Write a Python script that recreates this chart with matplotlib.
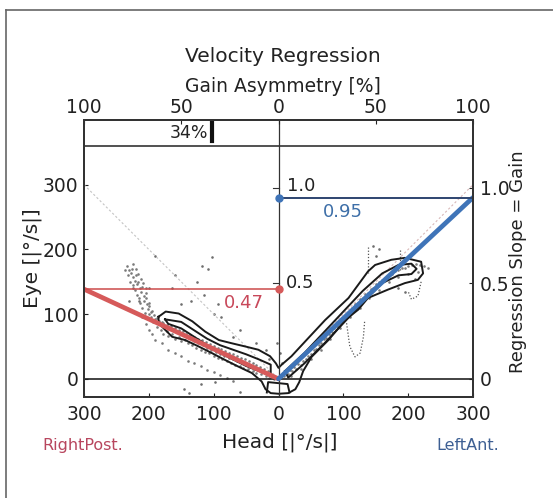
import numpy as np
import matplotlib.pyplot as plt
from matplotlib.lines import Line2D

plt.rcParams['font.family'] = ['DejaVu Sans']

# values (head / eye velocity in deg/s)
gain_right = 0.47
gain_left = 0.95
asymmetry = 34          # %, toward RightPost side
gain_scale = 295        # eye velocity that corresponds to gain 1.0 on the right axis

x_ticks = [-300, -200, -100, 0, 100, 200, 300]
x_labels = ['300', '200', '100', '0', '100', '200', '300']
asym_ticks = [-300, -150, 0, 150, 300]
asym_labels = ['100', '50', '0', '50', '100']
y_ticks = [0, 100, 200, 300]
gain_ticks = [0, 0.5, 1.0]
gain_labels = ['0', '0.5', '1.0']

left_x = [-233, -230, -228, -226, -224, -222, -220, -218, -216, -214, -212, -210, -208, -207, -205,
          -203, -202, -200, -199, -197, -195, -193, -190, -188, -185, -182, -180, -178, -175, -172,
          -170, -167, -164, -160, -157, -154, -150, -147, -144, -140, -137, -134, -130, -127, -124,
          -120, -117, -114, -110, -107, -104, -100, -97, -94, -90, -87, -84, -80, -77, -74, -70,
          -67, -64, -60, -57, -54, -50, -47, -44, -40, -37, -34, -30, -27, -24, -20, -17, -14,
          -10, -7, -4]
left_y = [175, 168, 163, 170, 158, 152, 160, 146, 150, 140, 135, 142, 128, 120, 132,
          115, 108, 118, 100, 95, 105, 88, 92, 80, 85, 76, 88, 70, 80, 74,
          66, 78, 70, 62, 72, 65, 58, 68, 60, 55, 63, 52, 58, 48, 55,
          45, 52, 42, 48, 40, 45, 36, 42, 33, 38, 30, 36, 28, 33, 25, 30,
          22, 28, 20, 25, 17, 22, 15, 19, 12, 16, 9, 13, 7, 10, 4, 8, 2,
          5, 0, 3]
left_up_x = [-205, -200, -196, -192, -188, -184, -178, -172, -166, -160, -154, -148, -142, -136,
             -130, -124, -118, -112, -106, -100, -94, -88, -82, -76, -70, -64, -58, -52, -46, -40,
             -34, -28, -22, -16, -236, -232, -229, -225, -221, -219, -215, -213, -210, -206,
             -225, -220, -216, -212, -209, -205]
left_up_y = [125, 112, 104, 98, 94, 90, 86, 84, 82, 78, 76, 74, 70, 68,
             65, 62, 60, 57, 54, 51, 48, 46, 43, 40, 38, 35, 32, 30, 27, 24,
             21, 18, 15, 12, 168, 160, 150, 145, 138, 130, 125, 118, 110, 102,
             178, 170, 162, 155, 148, 140]
left_low_x = [-210, -205, -200, -195, -190, -180, -170, -160, -150, -140, -130, -120, -110, -100, -90, -80, -70]
left_low_y = [95, 85, 75, 70, 60, 55, 45, 40, 35, 28, 25, 20, 14, 10, 6, 2, -3]
left_out_x = [-190, -165, -160, -150, -135, -125, -118, -115, -100, -93, -88, -70, -60, -35, -20, -15,
              -145, -138, -120, -98, -60, -225, -215, -200, -230, -103, -108]
left_out_y = [190, 140, 160, 115, 120, 150, 175, 130, 100, 115, 95, 65, 75, 55, 45, 30,
              -15, -22, -8, -5, -20, 140, 120, 140, 120, 188, 170]

right_x = [3, 6, 9, 12, 15, 18, 21, 24, 27, 30, 34, 38, 42, 46, 50, 54, 58, 62, 66, 70, 74, 78, 82,
           86, 90, 94, 98, 102, 106, 110, 114, 118, 122, 126, 130, 134, 138, 142, 146, 150, 155,
           160, 165, 170, 175, 180, 185, 190, 195, 200, 206, 212, 218, 224, 230]
right_y = [2, 6, 4, 10, 8, 14, 12, 19, 16, 23, 22, 28, 30, 36, 38, 44, 46, 52, 55, 61, 63, 70, 73,
           79, 82, 88, 91, 97, 100, 106, 109, 115, 117, 123, 125, 131, 133, 139, 141, 146, 149,
           153, 156, 160, 162, 166, 168, 171, 172, 175, 176, 178, 176, 174, 172]
right_low_x = [20, 35, 50, 65, 80, 95, 110, 125, 140, 155, 170, 185, 200, 215]
right_low_y = [5, 15, 30, 45, 62, 78, 95, 110, 125, 138, 150, 158, 162, 165]
right_out_x = [5, 3, -3, 150, 155, 145, 185, 195, 210]
right_out_y = [25, 40, 55, 190, 200, 205, 140, 135, 155]

# density contours: outer V shape, inner loops, small cup at the origin
outer_x = [-185, -174, -154, -133, -113, -92, -72, -51, -31, -13, -4, 0, 5, 20, 45, 72, 108, 138, 149,
           174, 195, 220, 223, 215, 195, 169, 138, 123, 103, 77, 51, 38, 32, 26, 15, 0, -12, -20,
           -26, -41, -62, -82, -103, -123, -144, -164, -185, -185]
outer_y = [96, 104, 101, 89, 73, 60, 55, 50, 45, 35, 24, 17, 22, 35, 62, 91, 125, 166, 176,
           184, 187, 181, 163, 153, 148, 138, 125, 107, 91, 60, 34, 12, -5, -16, -22, -23, -22, -16,
           -4, 9, 19, 29, 40, 50, 60, 65, 86, 96]
inner_l_x = [-175, -150, -130, -110, -90, -70, -50, -30, -12, -12, -30, -50, -70, -90, -110, -130, -150, -170, -175]
inner_l_y = [92, 88, 75, 62, 52, 45, 38, 30, 22, 5, 12, 20, 30, 40, 52, 65, 78, 85, 92]
inner_r_x = [10, 40, 70, 100, 130, 160, 185, 205, 213, 205, 185, 160, 130, 100, 70, 40, 15, 10]
inner_r_y = [12, 40, 72, 104, 136, 163, 176, 178, 170, 162, 160, 148, 118, 86, 54, 24, 2, 12]
cup_x = [-18, -16, 14, 17]
cup_y = [-21, -5, -8, -21]

dot_u_x = [105, 110, 118, 126, 131, 133]
dot_u_y = [86, 50, 34, 40, 65, 91]
dot_v1_x = [138, 138]
dot_v1_y = [204, 164]
dot_v2_x = [188, 188]
dot_v2_y = [199, 168]
dot_h_x = [220, 215, 205, 200]
dot_h_y = [150, 128, 123, 135]

red = '#d65a5a'
blue = '#3f74b8'

fig = plt.figure(figsize=(5.53, 4.98), dpi=100)
ax = fig.add_axes([84 / 553, 1 - 397 / 498, 389 / 553, 277 / 498])
ax.set_xlim(-300, 300)
ax.set_ylim(-28, 400)

# unity lines
ax.plot([-300, 0], [300, 0], color='#c4c4c4', lw=0.8, ls=(0, (2, 2)))
ax.plot([0, 300], [0, 300], color='#d8b8b8', lw=0.8, ls=(0, (2, 2)))

for xs, ys in [(left_x, left_y), (left_up_x, left_up_y), (left_low_x, left_low_y),
               (right_x, right_y), (right_low_x, right_low_y)]:
    ax.scatter(xs, ys, s=3.5, color='#7a7a7a', lw=0)
ax.scatter(left_out_x, left_out_y, s=3.5, color='#6e6e6e', lw=0)
ax.scatter(right_out_x, right_out_y, s=3.5, color='#6e6e6e', lw=0)

for xs, ys in [(dot_u_x, dot_u_y), (dot_v1_x, dot_v1_y), (dot_v2_x, dot_v2_y), (dot_h_x, dot_h_y)]:
    ax.plot(xs, ys, color='#555555', lw=0.9, ls=(0, (1, 1.5)))

for xs, ys in [(outer_x, outer_y), (inner_l_x, inner_l_y), (inner_r_x, inner_r_y), (cup_x, cup_y)]:
    ax.plot(xs, ys, color='#1a1a1a', lw=1.4)

# reference lines
ax.axhline(0, color='#222222', lw=1.2)
ax.axhline(360, color='#333333', lw=1.2)
ax.plot([0, 0], [-28, 400], color='#333333', lw=0.9)

# regression lines
ax.plot([-300, 0], [gain_right * gain_scale, 0], color=red, lw=3.4, solid_capstyle='round')
ax.plot([0, 300], [0, gain_left * gain_scale], color=blue, lw=3.4, solid_capstyle='round')
ax.plot([-300, 0], [gain_right * gain_scale] * 2, color='#cc4a4a', lw=1.1)
ax.plot([0, 300], [gain_left * gain_scale] * 2, color='#2d4470', lw=1.4)
ax.plot([0], [gain_right * gain_scale], 'o', color=red, ms=5)
ax.plot([0], [gain_left * gain_scale], 'o', color=blue, ms=5)

ax.text(-22, 118, '%.2f' % gain_right, color='#c8485a', fontsize=13, ha='right', va='center')
ax.text(68, 258, '%.2f' % gain_left, color='#3e6fa8', fontsize=13, ha='left', va='center')
ax.text(11, 148, '0.5', color='#222222', fontsize=13, ha='left', va='center')
ax.text(13, 298, '1.0', color='#222222', fontsize=13, ha='left', va='center')
ax.plot([-8, 0], [0.5 * gain_scale] * 2, color='#333333', lw=0.8)
ax.plot([-8, 0], [1.0 * gain_scale] * 2, color='#333333', lw=0.8)

# asymmetry marker in the top strip
ax.plot([-asymmetry * 3] * 2, [367, 395], color='#111111', lw=3)
ax.text(-asymmetry * 3 - 6, 380, '%d%%' % asymmetry, fontsize=12.5, ha='right', va='center', color='#222222')

ax.set_xticks(x_ticks)
ax.set_xticklabels(x_labels)
ax.set_yticks(y_ticks)
ax.tick_params(direction='in', length=3, labelsize=13.5, colors='#222222')
ax.tick_params(axis='x', pad=6)
ax.tick_params(axis='y', pad=4)
for s in ax.spines.values():
    s.set_linewidth(1.2)
    s.set_color('#333333')

ax_top = ax.twiny()
ax_top.set_xlim(-300, 300)
ax_top.set_xticks(asym_ticks)
ax_top.set_xticklabels(asym_labels)
ax_top.tick_params(direction='in', length=3, labelsize=13.5, pad=2, colors='#222222')

ax_r = ax.twinx()
ax_r.set_ylim(-28 / gain_scale, 400 / gain_scale)
ax_r.set_yticks(gain_ticks)
ax_r.set_yticklabels(gain_labels)
ax_r.tick_params(direction='in', length=3, labelsize=13.5, pad=5, colors='#222222')
for a in (ax_top, ax_r):
    for s in a.spines.values():
        s.set_linewidth(1.2)
        s.set_color('#333333')

fig.text(283 / 553, 1 - 57 / 498, 'Velocity Regression', fontsize=14.5, ha='center', va='center', color='#222222')
fig.text(283 / 553, 1 - 87 / 498, 'Gain Asymmetry [%]', fontsize=13.5, ha='center', va='center', color='#222222')
fig.text(32 / 553, 1 - 258 / 498, 'Eye [|°/s|]', fontsize=14.5, rotation=90, ha='center', va='center', color='#222222')
fig.text(518 / 553, 1 - 262 / 498, 'Regression Slope = Gain', fontsize=13, rotation=90, ha='center', va='center', color='#222222')
fig.text(280 / 553, 1 - 442 / 498, 'Head [|°/s|]', fontsize=14.5, ha='center', va='center', color='#222222')
fig.text(42 / 553, 1 - 445 / 498, 'RightPost.', fontsize=11.5, ha='left', va='center', color='#b8465e')
fig.text(436 / 553, 1 - 445 / 498, 'LeftAnt.', fontsize=11.5, ha='left', va='center', color='#3d5f93')

# scanned page border
fig.add_artist(Line2D([6 / 553, 1], [1 - 10 / 498] * 2, color='#666666', lw=1.2))
fig.add_artist(Line2D([6 / 553] * 2, [0, 1 - 10 / 498], color='#666666', lw=1.2))

fig.savefig('out.png', dpi=100)
